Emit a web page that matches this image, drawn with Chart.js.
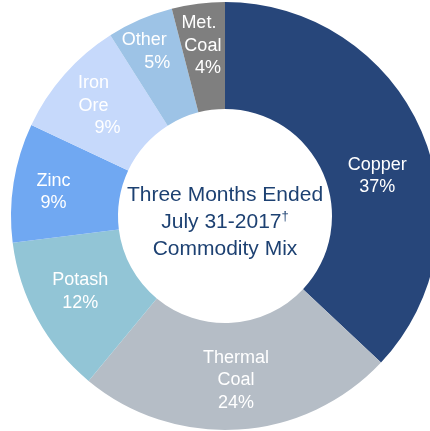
<!DOCTYPE html>
<html>
<head>
<meta charset="utf-8">
<script src="https://cdn.jsdelivr.net/npm/chart.js@4"></script>
<style>
  html, body { margin: 0; padding: 0; background: #fff; }
  #wrap { position: relative; width: 430px; height: 431px; overflow: hidden; }
  #wrap canvas { position: absolute; left: 0; top: 0; }
</style>
</head>
<body>
<div id="wrap"><canvas id="mix" width="450" height="432"></canvas></div>
<script>
// commodity mix, share of total (%), clockwise from 12 o'clock
const categories = ["Copper", "Thermal Coal", "Potash", "Zinc", "Iron Ore", "Other", "Met. Coal"];
const shares = [37, 24, 12, 9, 9, 5, 4];
const sliceColors = ["#27467a", "#b5bdc6", "#92c5d6", "#70a8f2", "#c6d9fb", "#9dc3e6", "#7f7f7f"];
const centerTitle = ["Three Months Ended", "July 31-2017", "Commodity Mix"];

const FONT = "'Liberation Sans', Arial, sans-serif";

// small hand nudges so the labels sit where the original slide has them
const labelNudge = [[5, 24], [1, 4], [-4, -2], [-13, 1], [-7, -4], [-11, -17], [-2, -11]];
const lineNudge = { 4: [-4, -4, 10], 5: [-6, 7], 6: [-4, 0, 5] };

const sliceLabels = {
  id: "sliceLabels",
  afterDatasetsDraw(chart){
    const ctx = chart.ctx;
    const arcs = chart.getDatasetMeta(0).data;
    ctx.save();
    ctx.fillStyle = "#ffffff";
    ctx.font = `18px ${FONT}`;
    ctx.textAlign = "center";
    ctx.textBaseline = "middle";
    arcs.forEach((arc, i) => {
      const p = arc.tooltipPosition();
      const lines = categories[i].split(" ").concat(`${shares[i]}%`);
      const lh = 22.5;
      const x0 = p.x + labelNudge[i][0];
      const y0 = p.y + labelNudge[i][1] - (lines.length - 1) * lh / 2;
      lines.forEach((t, k) => {
        const dx = (lineNudge[i] || [])[k] || 0;
        ctx.fillText(t, x0 + dx, y0 + k * lh);
      });
    });
    ctx.restore();
  },
};

const centerText = {
  id: "centerText",
  afterDraw(chart){
    const ctx = chart.ctx;
    const arc = chart.getDatasetMeta(0).data[0];
    const cx = arc.x, cy = arc.y + 6;
    const lh = 27;
    ctx.save();
    ctx.fillStyle = "#1d4172";
    ctx.textBaseline = "middle";
    ctx.textAlign = "left";
    centerTitle.forEach((t, k) => {
      const y = cy + (k - 1) * lh;
      ctx.font = `21px ${FONT}`;
      const w = ctx.measureText(t).width;
      let extra = 0;
      if (k === 1){
        ctx.font = `13px ${FONT}`;
        extra = ctx.measureText("\u2020").width;
        ctx.font = `21px ${FONT}`;
      }
      const x = cx - (w + extra) / 2;
      ctx.fillText(t, x, y);
      if (k === 1){
        ctx.font = `13px ${FONT}`;
        ctx.fillText("\u2020", x + w, y - 6);
      }
    });
    ctx.restore();
  },
};

new Chart(document.getElementById("mix"), {
  type: "doughnut",
  data: {
    labels: categories,
    datasets: [{ data: shares, backgroundColor: sliceColors, borderWidth: 0 }],
  },
  options: {
    responsive: false,
    animation: false,
    cutout: "50%",
    layout: { padding: 2 },
    plugins: { legend: { display: false }, tooltip: { enabled: false } },
  },
  plugins: [sliceLabels, centerText],
});
</script>
</body>
</html>
